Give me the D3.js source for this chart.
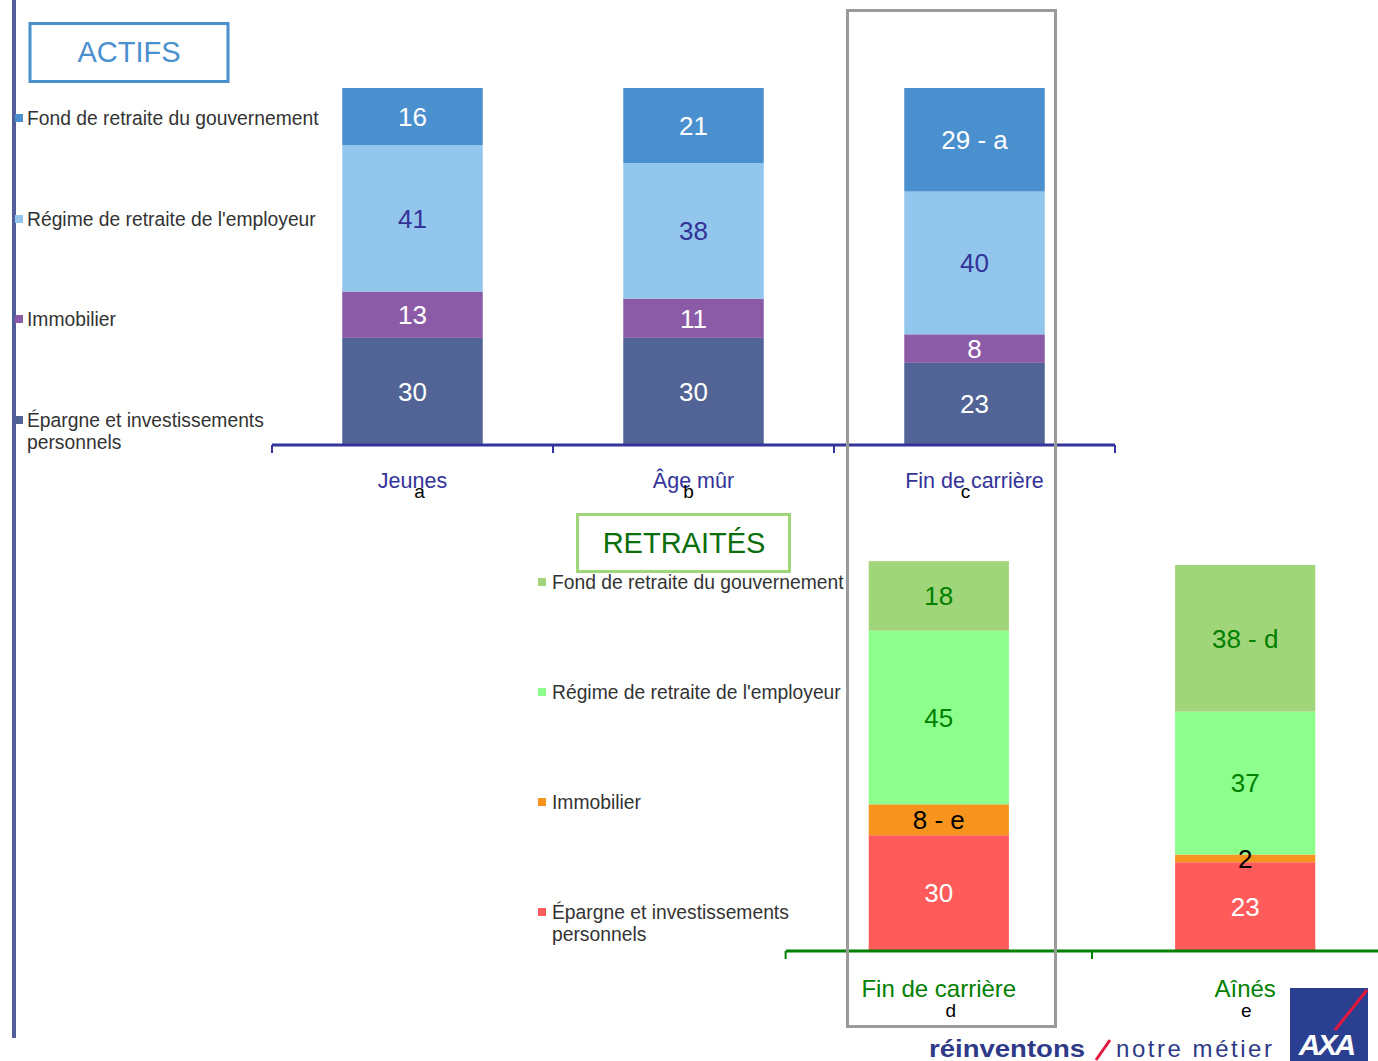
<!DOCTYPE html>
<html>
<head>
<meta charset="utf-8">
<script src="https://cdn.jsdelivr.net/npm/d3@7"></script>
<style>
  html, body { margin: 0; padding: 0; background: #fff; }
  svg { display: block; font-family: "Liberation Sans", Arial, sans-serif; }
</style>
</head>
<body>
<svg id="chart" width="1378" height="1061"></svg>
<script>
// ---------- DATA ----------
const seriesNames = [
  "Épargne et investissements personnels",
  "Immobilier",
  "Régime de retraite de l'employeur",
  "Fond de retraite du gouvernement"
];
// ACTIFS
const actifsCategories = ["Jeunes", "Âge mûr", "Fin de carrière"];
const actifsLetters = ["a", "b", "c"];
const actifsEpargne = [30, 30, 23];
const actifsImmobilier = [13, 11, 8];
const actifsRegime = [41, 38, 40];
const actifsGouvernement = [16, 21, 29];
const actifsLabelSuffix = [["", "", "", ""], ["", "", "", ""], ["", "", "", " - a"]];
// RETRAITÉS
const retraitesCategories = ["Fin de carrière", "Aînés"];
const retraitesLetters = ["d", "e"];
const retraitesEpargne = [30, 23];
const retraitesImmobilier = [8, 2];
const retraitesRegime = [45, 37];
const retraitesGouvernement = [18, 38];
const retraitesLabelSuffix = [["", " - e", "", ""], ["", "", "", " - d"]];

// ---------- STYLE ----------
const actifsColors = ["#526496", "#8C5BA7", "#92C6EC", "#4A8FCE"];
const actifsLabelColors = ["#ffffff", "#ffffff", "#333399", "#ffffff"];
const retraitesColors = ["#FF5B5B", "#F7941D", "#8CFF8C", "#A0D57A"];
const retraitesLabelColors = ["#ffffff", "#000000", "#008000", "#008000"];

const svg = d3.select("#chart");

// left vertical rule
svg.append("rect").attr("x", 12).attr("y", 0).attr("width", 4).attr("height", 1038).attr("fill", "#525E9A");

function drawPanel(opts) {
  const { categories, letters, values, suffix, colors, labelColors, axisColor, catColor,
          xRange, yRange, padIn, padOut, catFont, catY, letterY, letterDx, lineEnd } = opts;
  const x = d3.scaleBand().domain(categories).range(xRange).paddingInner(padIn).paddingOuter(padOut);
  const y = d3.scaleLinear().domain([0, 100]).range(yRange);
  const rows = categories.map((c, i) => {
    const r = { cat: c };
    seriesNames.forEach((s, k) => r[s] = values[k][i]);
    return r;
  });
  const stacked = d3.stack().keys(seriesNames)(rows);
  const g = svg.append("g");
  const bars = g.append("g");
  const labels = g.append("g");
  stacked.forEach((layer, k) => {
    bars.selectAll(null).data(layer).enter().append("rect")
      .attr("x", d => x(d.data.cat))
      .attr("width", x.bandwidth())
      .attr("y", d => y(d[1]))
      .attr("height", d => y(d[0]) - y(d[1]))
      .attr("fill", colors[k]);
    labels.selectAll(null).data(layer).enter().append("text")
      .attr("x", d => x(d.data.cat) + x.bandwidth() / 2)
      .attr("y", d => (y(d[0]) + y(d[1])) / 2)
      .attr("dy", "0.36em")
      .attr("text-anchor", "middle")
      .attr("font-size", 26)
      .attr("fill", labelColors[k])
      .text((d, i) => (d[1] - d[0]) + suffix[i][k]);
  });
  // axis line + boundary ticks
  const y0 = y(0);
  const step = x.step();
  g.append("line").attr("x1", xRange[0]).attr("x2", lineEnd).attr("y1", y0).attr("y2", y0)
    .attr("stroke", axisColor).attr("stroke-width", 3);
  const bounds = categories.map(c => x(c) + x.bandwidth() / 2 - step / 2);
  bounds.push(x(categories[categories.length - 1]) + x.bandwidth() / 2 + step / 2);
  bounds.forEach(b => {
    g.append("line").attr("x1", b).attr("x2", b).attr("y1", y0).attr("y2", y0 + 8)
      .attr("stroke", axisColor).attr("stroke-width", 2);
  });
  categories.forEach((c, i) => {
    const cx = x(c) + x.bandwidth() / 2;
    g.append("text").attr("x", cx).attr("y", catY).attr("text-anchor", "middle")
      .attr("font-size", catFont).attr("fill", catColor).text(c);
    g.append("text").attr("x", cx + letterDx[i]).attr("y", letterY).attr("text-anchor", "middle")
      .attr("font-size", 19).attr("fill", "#000").text(letters[i]);
  });
}

function drawLegend(x0, tx, ys, colors) {
  const lg = svg.append("g");
  seriesNames.slice().reverse().forEach((s, i) => {
    const col = colors[colors.length - 1 - i];
    const yy = ys[i];
    lg.append("rect").attr("x", x0).attr("y", yy - 11).attr("width", 8).attr("height", 8).attr("fill", col);
    const t = lg.append("text").attr("x", tx).attr("y", yy).attr("font-size", 19.3).attr("fill", "#333");
    if (s.startsWith("Épargne")) {
      t.append("tspan").attr("x", tx).text("Épargne et investissements");
      t.append("tspan").attr("x", tx).attr("dy", 22).text("personnels");
    } else {
      t.text(s);
    }
  });
}

// ---------- ACTIFS ----------
svg.append("rect").attr("x", 30).attr("y", 23.5).attr("width", 198).attr("height", 58)
  .attr("fill", "none").attr("stroke", "#4A8FCE").attr("stroke-width", 3);
svg.append("text").attr("x", 129).attr("y", 62).attr("text-anchor", "middle")
  .attr("font-size", 29).attr("fill", "#4A8FCE").text("ACTIFS");

drawPanel({
  categories: actifsCategories, letters: actifsLetters,
  values: [actifsEpargne, actifsImmobilier, actifsRegime, actifsGouvernement],
  suffix: actifsLabelSuffix, colors: actifsColors, labelColors: actifsLabelColors,
  axisColor: "#333399", catColor: "#333399",
  xRange: [272, 1115], yRange: [445, 88], padIn: 0.5, padOut: 0.25,
  catFont: 21.5, catY: 488, letterY: 498, letterDx: [7, -5, -9], lineEnd: 1115
});
drawLegend(15, 27, [125, 226, 326, 427], actifsColors);

// ---------- RETRAITÉS ----------
svg.append("rect").attr("x", 577.5).attr("y", 514.5).attr("width", 212).attr("height", 57)
  .attr("fill", "none").attr("stroke", "#A0D57A").attr("stroke-width", 3);
svg.append("text").attr("x", 684).attr("y", 553).attr("text-anchor", "middle")
  .attr("font-size", 29).attr("fill", "#0A6E0A").text("RETRAITÉS");

drawPanel({
  categories: retraitesCategories, letters: retraitesLetters,
  values: [retraitesEpargne, retraitesImmobilier, retraitesRegime, retraitesGouvernement],
  suffix: retraitesLabelSuffix, colors: retraitesColors, labelColors: retraitesLabelColors,
  axisColor: "#008000", catColor: "#008000",
  xRange: [786, 1398], yRange: [951, 565], padIn: 0.5425, padOut: 0.27,
  catFont: 24, catY: 997, letterY: 1017, letterDx: [12, 1], lineEnd: 1378
});
drawLegend(538, 552, [589, 699, 809, 919], retraitesColors);

// highlight frame
svg.append("rect").attr("x", 847.5).attr("y", 10.5).attr("width", 208).attr("height", 1016)
  .attr("fill", "none").attr("stroke", "#9A9A9A").attr("stroke-width", 3);

// ---------- FOOTER ----------
svg.append("text").attr("x", 929).attr("y", 1057).attr("font-size", 24).attr("font-weight", "bold")
  .attr("fill", "#2E3A87").attr("textLength", 156).attr("lengthAdjust", "spacingAndGlyphs").text("réinventons");
svg.append("line").attr("x1", 1096).attr("y1", 1060).attr("x2", 1110).attr("y2", 1040)
  .attr("stroke", "#E3173E").attr("stroke-width", 3);
svg.append("text").attr("x", 1116).attr("y", 1057).attr("font-size", 24)
  .attr("fill", "#2E3A87").attr("textLength", 156).attr("lengthAdjust", "spacing").text("notre métier");
const logo = svg.append("g");
logo.append("rect").attr("x", 1290).attr("y", 988).attr("width", 78).attr("height", 73).attr("fill", "#2A3F8F");
logo.append("line").attr("x1", 1367).attr("y1", 990).attr("x2", 1335).attr("y2", 1030)
  .attr("stroke", "#E3173E").attr("stroke-width", 3);
logo.append("text").attr("x", 1326).attr("y", 1055).attr("text-anchor", "middle")
  .attr("font-size", 30).attr("font-weight", "bold").attr("font-style", "italic")
  .attr("fill", "#fff").attr("letter-spacing", -3).text("AXA");
</script>
</body>
</html>
